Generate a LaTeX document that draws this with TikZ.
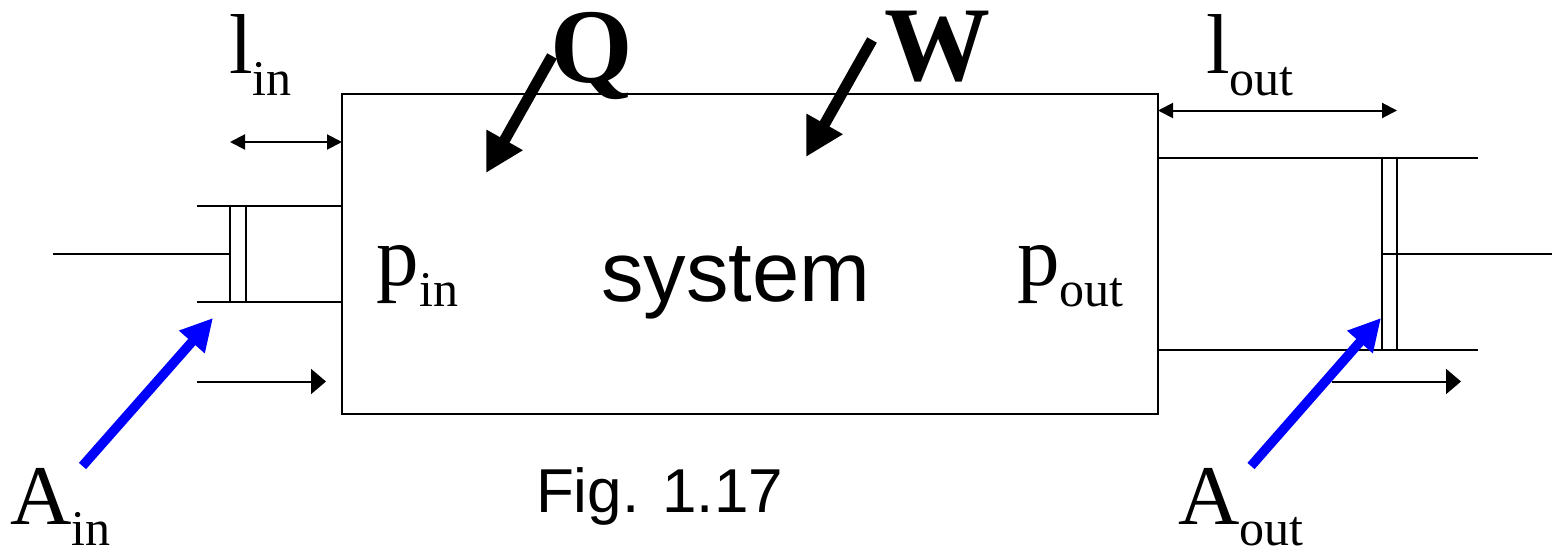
\documentclass[tikz,border=0pt]{standalone}
\usepackage{fontspec}
\setmainfont{Liberation Serif}
\newfontfamily\sansf{Liberation Sans}
\usetikzlibrary{arrows.meta}
\tikzset{
 thin line/.style={line width=2pt,black},
 dim/.style={thin line,{Triangle[length=15pt,width=15pt]}-{Triangle[length=15pt,width=15pt]}},
 flow/.style={thin line,-{Triangle[length=15pt,width=25pt]}},
 heavy/.style={line width=11pt,black,-{Triangle[length=38pt,width=39pt]}},
 blue arrow/.style={line width=9.5pt,blue,-{Triangle[length=32pt,width=32pt]}},
 lab/.style={inner sep=0pt,outer sep=0pt,anchor=base west},
 piston/.style={line width=2pt,black,fill=white,inner sep=0pt,outer sep=0pt,anchor=north west},
}
\newcommand{\mainsub}[2]{\fontsize{85}{85}\selectfont #1\fontsize{50}{50}\selectfont\raisebox{-21pt}{#2}}
\begin{document}
\begin{tikzpicture}[x=1pt,y=-1pt]
\useasboundingbox (0,0) rectangle (1552,551);
% system box
\node[draw,thin line,minimum width=815.5pt,minimum height=319.5pt,inner sep=0pt,outer sep=0pt,anchor=north west] (sys) at (342,94) {};
% cylinder walls
\coordinate (inT0) at (197,206); \coordinate (inT1) at (342,206);
\coordinate (inB0) at (197,302); \coordinate (inB1) at (342,302);
\coordinate (outT0) at (1157.5,158); \coordinate (outT1) at (1478,158);
\coordinate (outB0) at (1157.5,350); \coordinate (outB1) at (1478,350);
\draw[thin line] (inT0)--(inT1);
\draw[thin line] (inB0)--(inB1);
\draw[thin line] (outT0)--(outT1);
\draw[thin line] (outB0)--(outB1);
% pistons
\node[draw,piston,minimum width=15.5pt,minimum height=96pt] (pin) at (230,206) {};
\node[draw,piston,minimum width=15.5pt,minimum height=192pt] (pout) at (1381.5,158) {};
\coordinate (rodL) at (53,254);
\coordinate (rodR) at (1552,254);
\draw[thin line] (rodL)--(pin.west);
\draw[thin line] (pout.west)--(rodR);
% dimension arrows
\coordinate (a1) at (230,142); \coordinate (a2) at (342,142);
\draw[dim] (a1)--(a2);
\coordinate (b1) at (1158,110.5); \coordinate (b2) at (1397,110.5);
\draw[dim] (b1)--(b2);
% flow arrows
\coordinate (f1) at (197,381.5); \coordinate (f2) at (326,381.5);
\draw[flow] (f1)--(f2);
\coordinate (g1) at (1332,381.5); \coordinate (g2) at (1461,381.5);
\draw[flow] (g1)--(g2);
% labels
\node[lab] (lin) at (229,74) {\mainsub{l}{in}};
\node[lab] (lout) at (1206,74) {\mainsub{l}{out}};
\node[lab] (pinl) at (376,285) {\mainsub{p}{\kern1pt in}};
\node[lab] (poutl) at (1017,285) {\mainsub{p}{out}};
\node[lab] (sysl) at (601,301) {\sansf\fontsize{85}{85}\selectfont system};
\node[lab] (fig) at (536,512) {\sansf\fontsize{62}{62}\selectfont Fig. 1.17};
\node[lab] (ain) at (10,524) {\mainsub{A}{in}};
\node[lab] (aout) at (1178,524) {\mainsub{A}{out}};
\node[lab] (Ql) at (550,82) {\fontsize{106}{106}\selectfont\bfseries Q};
\node[lab] (Wl) at (884,81) {\fontsize{106}{106}\selectfont\bfseries W};
% heavy arrows
\coordinate (q1) at (552,56); \coordinate (q2) at (486,173);
\draw[heavy] (q1)--(q2);
\coordinate (w1) at (872,40); \coordinate (w2) at (806,157);
\draw[heavy] (w1)--(w2);
\coordinate (c1) at (82.5,466); \coordinate (c2) at (213,318);
\draw[blue arrow] (c1)--(c2);
\coordinate (d1) at (1251,466); \coordinate (d2) at (1381,318);
\draw[blue arrow] (d1)--(d2);
\end{tikzpicture}
\end{document}
